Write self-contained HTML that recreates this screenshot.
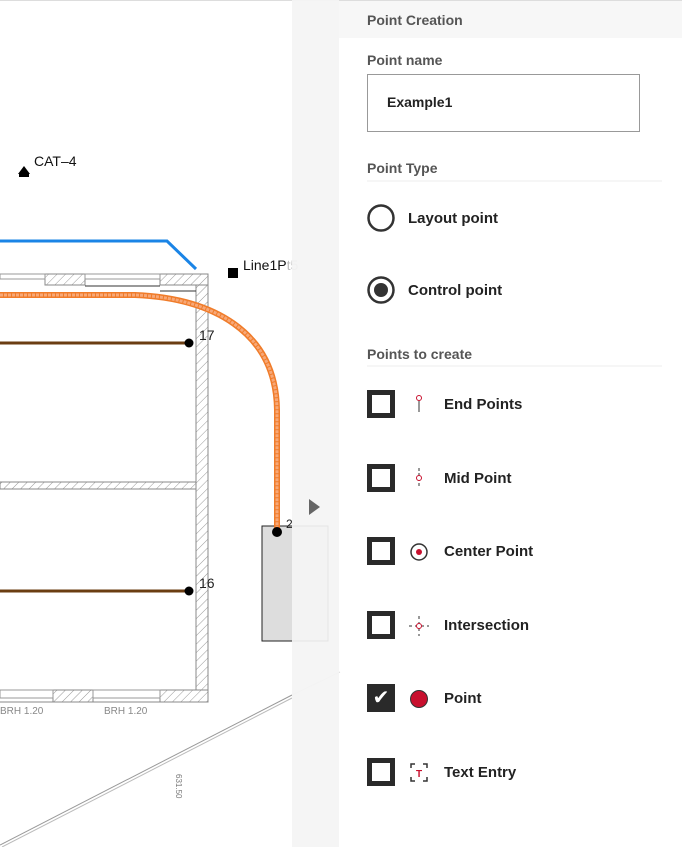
<!DOCTYPE html>
<html><head><style>
body{margin:0;width:682px;height:847px;overflow:hidden;background:#fff;font-family:"Liberation Sans",Arial,sans-serif;position:relative}
.t{position:absolute;font-weight:bold;color:#222;font-size:15px}
.h{position:absolute;font-weight:bold;color:#555;font-size:14px}
.cb{position:absolute;left:367px;width:18px;height:18px;border:5px solid #2a2a2a;background:#fff}
</style></head><body>
<svg width="682" height="847" style="position:absolute;left:0;top:0">
<line x1="0" y1="0.5" x2="682" y2="0.5" stroke="#ddd"/>
<defs><pattern id="hat" width="6" height="6" patternUnits="userSpaceOnUse" patternTransform="rotate(45)"><rect width="6" height="6" fill="#fff"/><line x1="0" y1="0" x2="0" y2="6" stroke="#999" stroke-width="1"/></pattern></defs>
<!-- walls -->
<rect x="196" y="274" width="12" height="428" fill="url(#hat)" stroke="#888"/>
<rect x="0" y="482" width="196" height="7" fill="url(#hat)" stroke="#888"/>
<rect x="45" y="274" width="40" height="11" fill="url(#hat)" stroke="#888"/>
<rect x="160" y="274" width="48" height="11" fill="url(#hat)" stroke="#888"/>
<rect x="0" y="274" width="45" height="5" fill="none" stroke="#999"/>
<rect x="85" y="274" width="75" height="5" fill="none" stroke="#999"/>
<line x1="85" y1="286" x2="160" y2="286" stroke="#333"/>
<line x1="160" y1="291" x2="196" y2="291" stroke="#333"/>
<rect x="53" y="690" width="40" height="12" fill="url(#hat)" stroke="#888"/>
<rect x="160" y="690" width="48" height="12" fill="url(#hat)" stroke="#888"/>
<rect x="0" y="690" width="53" height="8" fill="none" stroke="#999"/>
<rect x="93" y="690" width="67" height="8" fill="none" stroke="#999"/>
<line x1="0" y1="702" x2="208" y2="702" stroke="#888"/>
<text x="0" y="714" font-size="10" fill="#888">BRH 1.20</text>
<text x="104" y="714" font-size="10" fill="#888">BRH 1.20</text>
<!-- diagonal -->
<line x1="0" y1="845" x2="292" y2="695" stroke="#999" stroke-width="1"/>
<line x1="2" y1="847" x2="292" y2="698" stroke="#bbb" stroke-width="1"/>
<line x1="292" y1="695" x2="340" y2="672" stroke="#ddd"/>
<text x="182" y="792" font-size="8" fill="#777" transform="rotate(90 188 780)">631.50</text>
<!-- blue -->
<polyline points="0,241 167,241 196,269" fill="none" stroke="#1a84e6" stroke-width="3"/>
<!-- brown -->
<line x1="0" y1="343" x2="189" y2="343" stroke="#6b3d12" stroke-width="3"/>
<line x1="0" y1="591" x2="189" y2="591" stroke="#6b3d12" stroke-width="3"/>
<!-- box -->
<rect x="262" y="526" width="66" height="115" fill="#ddd" stroke="#222"/>
<!-- orange -->
<path d="M0,295 L135,295 C210,298 276,330 277,410 L277,532" fill="none" stroke="#f07c2a" stroke-width="6"/>
<path d="M0,295 L135,295 C210,298 276,330 277,410 L277,532" fill="none" stroke="#f7a878" stroke-width="3" stroke-dasharray="3 1"/>
<circle cx="189" cy="343" r="4.5" fill="#000"/>
<circle cx="189" cy="591" r="4.5" fill="#000"/>
<circle cx="277" cy="532" r="5" fill="#000"/>
<text x="199" y="340" font-size="14" fill="#222">17</text>
<text x="199" y="588" font-size="14" fill="#222">16</text>
<text x="286" y="528" font-size="12" fill="#222">2</text>
<path d="M18,174 L24,166 L30,174 Z M19,174 h10 v3 h-10z" fill="#000"/>
<text x="34" y="166" font-size="14" fill="#111">CAT–4</text>
<rect x="228" y="268" width="10" height="10" fill="#000"/>
<text x="243" y="270" font-size="14" fill="#111">Line1P<tspan fill="#bbb">t5</tspan></text>
<!-- strip -->
<rect x="292" y="0" width="47" height="847" fill="#f4f4f4" opacity="0.93"/>
<path d="M309,499 L320,507 L309,515Z" fill="#666"/>
<rect x="339" y="1" width="343" height="37" fill="#f7f7f7"/>
<line x1="367" y1="181" x2="662" y2="181" stroke="#eee"/>
<line x1="367" y1="366" x2="662" y2="366" stroke="#eee"/>
<!-- radios -->
<circle cx="381" cy="218" r="12.5" fill="#fff" stroke="#333" stroke-width="2.5"/>
<circle cx="381" cy="290" r="12.5" fill="#fff" stroke="#333" stroke-width="2.5"/>
<circle cx="381" cy="290" r="7" fill="#333"/>
<!-- icons -->
<circle cx="419" cy="398" r="2.5" fill="none" stroke="#c8102e"/><line x1="419" y1="401" x2="419" y2="412" stroke="#333"/>
<line x1="419" y1="468" x2="419" y2="488" stroke="#333" stroke-dasharray="3 2"/><circle cx="419" cy="478" r="2.5" fill="#fff" stroke="#c8102e"/>
<circle cx="419" cy="552" r="8" fill="#fff" stroke="#333" stroke-width="1.5"/><circle cx="419" cy="552" r="3" fill="#c8102e"/>
<line x1="409" y1="626" x2="429" y2="626" stroke="#333" stroke-dasharray="3 3"/><line x1="419" y1="616" x2="419" y2="636" stroke="#333" stroke-dasharray="3 3"/><circle cx="419" cy="626" r="2.5" fill="#fff" stroke="#c8102e"/>
<circle cx="419" cy="699" r="8.5" fill="#c8102e" stroke="#333" stroke-width="1"/>
<path d="M411,768 v-4 h4 M423,764 h4 v4 M427,777 v4 h-4 M415,781 h-4 v-4" fill="none" stroke="#333" stroke-width="1.5"/>
<text x="419" y="777" font-size="10" font-weight="bold" fill="#c8102e" text-anchor="middle">T</text>
</svg>
<div class="h" style="left:367px;top:12px">Point Creation</div>
<div class="h" style="left:367px;top:52px">Point name</div>
<div style="position:absolute;left:367px;top:74px;width:271px;height:56px;border:1px solid #999;background:#fff"></div>
<div class="t" style="left:387px;top:94px;font-size:14px">Example1</div>
<div class="h" style="left:367px;top:160px">Point Type</div>
<div class="t" style="left:408px;top:210px">Layout point</div>
<div class="t" style="left:408px;top:282px">Control point</div>
<div class="h" style="left:367px;top:346px">Points to create</div>
<div class="cb" style="top:390px"></div><div class="t" style="left:444px;top:396px">End Points</div>
<div class="cb" style="top:464px"></div><div class="t" style="left:444px;top:470px">Mid Point</div>
<div class="cb" style="top:537px"></div><div class="t" style="left:444px;top:543px">Center Point</div>
<div class="cb" style="top:611px"></div><div class="t" style="left:444px;top:617px">Intersection</div>
<div class="cb" style="top:684px;background:#2a2a2a;color:#fff;font-size:20px;line-height:18px;text-align:center">✔</div><div class="t" style="left:444px;top:690px">Point</div>
<div class="cb" style="top:758px"></div><div class="t" style="left:444px;top:764px">Text Entry</div>
</body></html>
